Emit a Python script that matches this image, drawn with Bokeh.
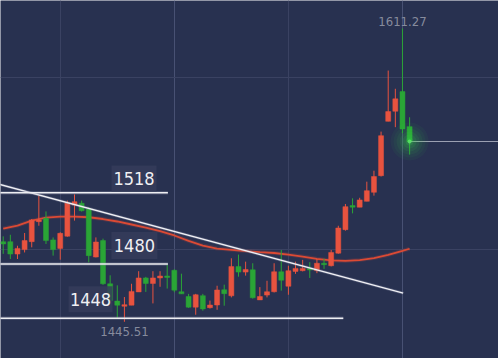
from bokeh.plotting import figure
from bokeh.models import Range1d, FixedTicker, ColumnDataSource, Grid
from bokeh.core.properties import value
from bokeh.embed import file_html
from bokeh.resources import INLINE

# ---- data ----
opens = [1490.8, 1490.8, 1483.8, 1486.3, 1490.8, 1502.1, 1504.0, 1491.8, 1487.0, 1493.9,
         1511.5, 1512.5, 1509.3, 1482.1, 1491.4, 1467.0, 1457.2, 1454.3, 1454.9, 1462.4,
         1470.3, 1467.2, 1470.3, 1471.4, 1474.6, 1462.5, 1459.8, 1453.8, 1460.3, 1453.5,
         1455.0, 1463.6, 1460.2, 1476.7, 1473.6, 1474.9, 1457.9, 1460.6, 1462.5, 1473.8,
         1465.6, 1474.0, 1474.4, 1475.7, 1474.4, 1478.6, 1477.2, 1484.3, 1497.6, 1511.2,
         1510.3, 1513.6, 1518.7, 1528.1, 1558.8, 1564.5, 1575.6, 1555.8]
highs = [1493.8, 1494.7, 1488.5, 1495.7, 1503.6, 1516.8, 1507.9, 1493.2, 1496.1, 1514.0,
         1517.5, 1514.0, 1510.2, 1493.2, 1492.5, 1471.8, 1466.1, 1459.5, 1467.0, 1474.1,
         1470.9, 1474.1, 1474.1, 1477.8, 1475.2, 1472.7, 1461.3, 1461.3, 1461.3, 1457.5,
         1465.9, 1466.5, 1481.4, 1483.5, 1479.5, 1478.6, 1465.1, 1468.7, 1478.6, 1486.1,
         1477.2, 1479.5, 1480.5, 1479.2, 1481.0, 1481.2, 1486.1, 1499.8, 1512.1, 1515.3,
         1515.6, 1524.7, 1530.9, 1553.0, 1587.5, 1577.2, 1611.27, 1561.1]
lows = [1483.9, 1481.0, 1481.0, 1484.7, 1487.6, 1499.8, 1489.5, 1482.9, 1480.6, 1493.6,
        1502.7, 1507.8, 1479.1, 1481.9, 1466.4, 1456.8, 1447.8, 1445.51, 1454.9, 1462.4,
        1462.4, 1455.9, 1465.3, 1464.3, 1462.2, 1461.2, 1453.4, 1449.5, 1451.8, 1453.0,
        1452.3, 1454.6, 1459.3, 1471.0, 1471.6, 1458.6, 1457.9, 1459.3, 1462.1, 1463.1,
        1460.8, 1472.6, 1474.0, 1470.3, 1473.0, 1475.4, 1476.8, 1484.0, 1497.0, 1506.8,
        1510.3, 1513.6, 1516.8, 1527.6, 1558.8, 1555.5, 1552.1, 1540.0]
closes = [1489.5, 1483.8, 1487.0, 1491.4, 1503.1, 1503.1, 1491.4, 1486.3, 1495.5, 1512.8,
          1513.4, 1508.3, 1482.9, 1490.6, 1467.0, 1457.5, 1454.9, 1455.2, 1462.7, 1470.3,
          1467.2, 1470.3, 1471.4, 1470.6, 1463.4, 1461.3, 1453.8, 1460.8, 1452.8, 1455.0,
          1463.5, 1461.4, 1476.7, 1473.6, 1475.1, 1459.1, 1459.8, 1462.5, 1473.8, 1469.0,
          1474.4, 1475.7, 1475.7, 1474.8, 1478.6, 1477.8, 1484.7, 1498.5, 1510.6, 1510.3,
          1514.4, 1519.6, 1527.6, 1550.7, 1564.3, 1571.5, 1554.5, 1547.4]
idx = list(range(len(opens)))

ma_idx = [0, 2, 4, 6, 8, 10, 12, 14, 16, 18, 20, 22, 24, 26, 28, 30, 32, 34, 36, 38,
          40, 42, 44, 46, 48, 50, 52, 54, 56, 57]
ma_vals = [1498.2, 1499.9, 1502.7, 1504.4, 1505.0, 1505.0, 1504.6, 1503.6, 1502.2, 1500.5,
           1498.8, 1496.8, 1494.3, 1491.2, 1488.6, 1486.9, 1486.2, 1485.5, 1484.9, 1484.4,
           1483.5, 1482.4, 1481.1, 1480.2, 1479.9, 1480.4, 1481.5, 1483.3, 1485.6, 1486.8]

levels = [1518.4, 1478.2, 1447.5]
level_labels = ["1518", "1480", "1448"]
level_ends = [23.1, 23.1, 47.7]
label_x = [18.35, 18.4, 12.25]
label_y = [1526.5, 1488.6, 1458.2]

trend_x = [-1.8, 56.1]
trend_y = [1524.6, 1461.7]

last_price = closes[-1]
high_val = max(highs)
low_val = min(lows)

# ---- styling ----
BG = "#283150"
UP = "#e8533f"
DOWN = "#2aa536"
FONT = "DejaVu Sans Condensed"

p = figure(width=498, height=358, x_range=Range1d(-0.38, 69.47),
           y_range=Range1d(1424.77, 1627.09), output_backend="svg",
           toolbar_location=None, min_border=0, background_fill_color=BG,
           border_fill_color=BG, outline_line_color=None,
           x_axis_location=None, y_axis_location=None)
p.grid.visible = False

p.add_layout(Grid(dimension=0, ticker=FixedTicker(ticks=[8, 40]),
                  grid_line_color="#3a4262", grid_line_width=1))
p.add_layout(Grid(dimension=0, ticker=FixedTicker(ticks=[24, 56]),
                  grid_line_color="#485173", grid_line_width=1))
p.add_layout(Grid(dimension=1, ticker=FixedTicker(ticks=[1486.6, 1583.6]),
                  grid_line_color="#3a4262", grid_line_width=1))

colors = [UP if c >= o else DOWN for o, c in zip(opens, closes)]
tops = [max(o, c) for o, c in zip(opens, closes)]
bots = [min(o, c) for o, c in zip(opens, closes)]
src = ColumnDataSource(dict(x=idx, o=opens, h=highs, l=lows, c=closes,
                            top=tops, bot=bots, color=colors))

# moving average
p.line(ma_idx, ma_vals, line_color=UP, line_width=4, line_alpha=0.15)
p.line(ma_idx, ma_vals, line_color="#dc4a34", line_width=1.8)

# candles
p.segment(x0="x", y0="h", x1="x", y1="l", line_color="color", line_width=1, source=src)
p.vbar(x="x", top="top", bottom="bot", width=0.7, fill_color="color",
       line_color="color", line_width=0.5, source=src)

# trend line
p.line(trend_x, trend_y, line_color="#8a90a8", line_width=3, line_alpha=0.35)
p.line(trend_x, trend_y, line_color="#f0f0f4", line_width=1.4)

# level lines
for lv, end in zip(levels, level_ends):
    p.line([-1, end], [lv, lv], line_color="#8a90a8", line_width=3.5, line_alpha=0.3)
    p.line([-1, end], [lv, lv], line_color="#eeeef2", line_width=1.6)

# last price line
p.line([57.1, 70], [last_price, last_price], line_color="#9ba0b2", line_width=1.2)

# level label boxes
p.rect(x=label_x, y=label_y, width=[45, 46, 44], height=[26, 27, 26],
       width_units="screen", height_units="screen",
       fill_color="#353c5b", fill_alpha=0.85, line_color=None)
p.text(x=label_x, y=label_y, text=level_labels, text_font=value(FONT),
       text_font_size="18px", text_color="#f0f0f3", text_align="center",
       text_baseline="middle")

# high / low price labels
p.text(x=[56], y=[high_val + 4.0], text=["%.2f" % high_val], text_font=value(FONT),
       text_font_size="13px", text_color="#868b9d", text_align="center",
       text_baseline="middle")
p.text(x=[17], y=[low_val - 5.5], text=["%.2f" % low_val], text_font=value(FONT),
       text_font_size="13px", text_color="#868b9d", text_align="center",
       text_baseline="middle")

# soft glow on last price
for s, a in [(38, 0.05), (32, 0.06), (26, 0.07), (20, 0.09), (14, 0.12), (8, 0.18)]:
    p.scatter([57], [last_price], size=s, fill_color="#3ad44b", fill_alpha=a,
              line_color=None)
p.scatter([57], [last_price], size=4, fill_color="#5fe86c", fill_alpha=0.8,
          line_color=None)

open("out.html", "w").write(file_html(p, INLINE))
